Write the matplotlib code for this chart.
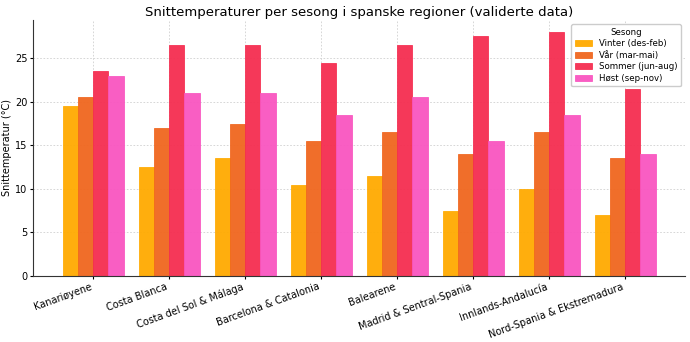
import numpy as np
import matplotlib
matplotlib.use("Agg")
import matplotlib.pyplot as plt

# ── Data ───────────────────────────────────────────────────────────────────
regions = ["Kanariøyene", "Costa Blanca", "Costa del Sol & Málaga",
           "Barcelona & Catalonia", "Balearene", "Madrid & Sentral-Spania",
           "Innlands-Andalucía", "Nord-Spania & Ekstremadura"]
seasons = ["Vinter (des-feb)", "Vår (mar-mai)", "Sommer (jun-aug)", "Høst (sep-nov)"]

vinter = [19.5, 12.5, 13.5, 10.5, 11.5, 7.5, 10.0, 7.0]
var    = [20.5, 17.0, 17.5, 15.5, 16.5, 14.0, 16.5, 13.5]
sommer = [23.5, 26.5, 26.5, 24.5, 26.5, 27.5, 28.0, 21.5]
host   = [23.0, 21.0, 21.0, 18.5, 20.5, 15.5, 18.5, 14.0]

colors = ["#FFAA00", "#F0661E", "#F52D50", "#F955C0"]

# ── Figure ─────────────────────────────────────────────────────────────────
fig, ax = plt.subplots(figsize=(6.9, 3.42), dpi=100)
fig.subplots_adjust(left=0.048, right=0.993, bottom=0.193, top=0.942)
x = np.arange(len(regions))
w = 0.2
for i, (vals, lab, col) in enumerate(zip([vinter, var, sommer, host], seasons, colors)):
    ax.bar(x + (i - 1.5) * w, vals, width=w, color=col, alpha=0.95,
           edgecolor=col, linewidth=0.6, label=lab, zorder=2)

ax.set_xticks(x)
ax.set_xticklabels(regions, rotation=20, ha="right", fontsize=7)
ax.tick_params(axis="both", labelsize=7, length=2, pad=2)
ax.set_ylabel("Snittemperatur (°C)", fontsize=7, labelpad=2)
ax.set_title("Snittemperaturer per sesong i spanske regioner (validerte data)",
             fontsize=9.5, pad=2.5)
ax.grid(True, linestyle=(0, (2, 2)), color="#d0d0d0", linewidth=0.6, zorder=0)
ax.spines["top"].set_visible(False)
ax.spines["right"].set_visible(False)
ax.spines["left"].set_color("#333333")
ax.spines["bottom"].set_color("#333333")
ax.legend(title="Sesong", fontsize=6.2, title_fontsize=6.2, loc="upper right",
          framealpha=1.0, labelspacing=0.3, handlelength=2.0, borderpad=0.4)

fig.savefig("out.png", dpi=100)
